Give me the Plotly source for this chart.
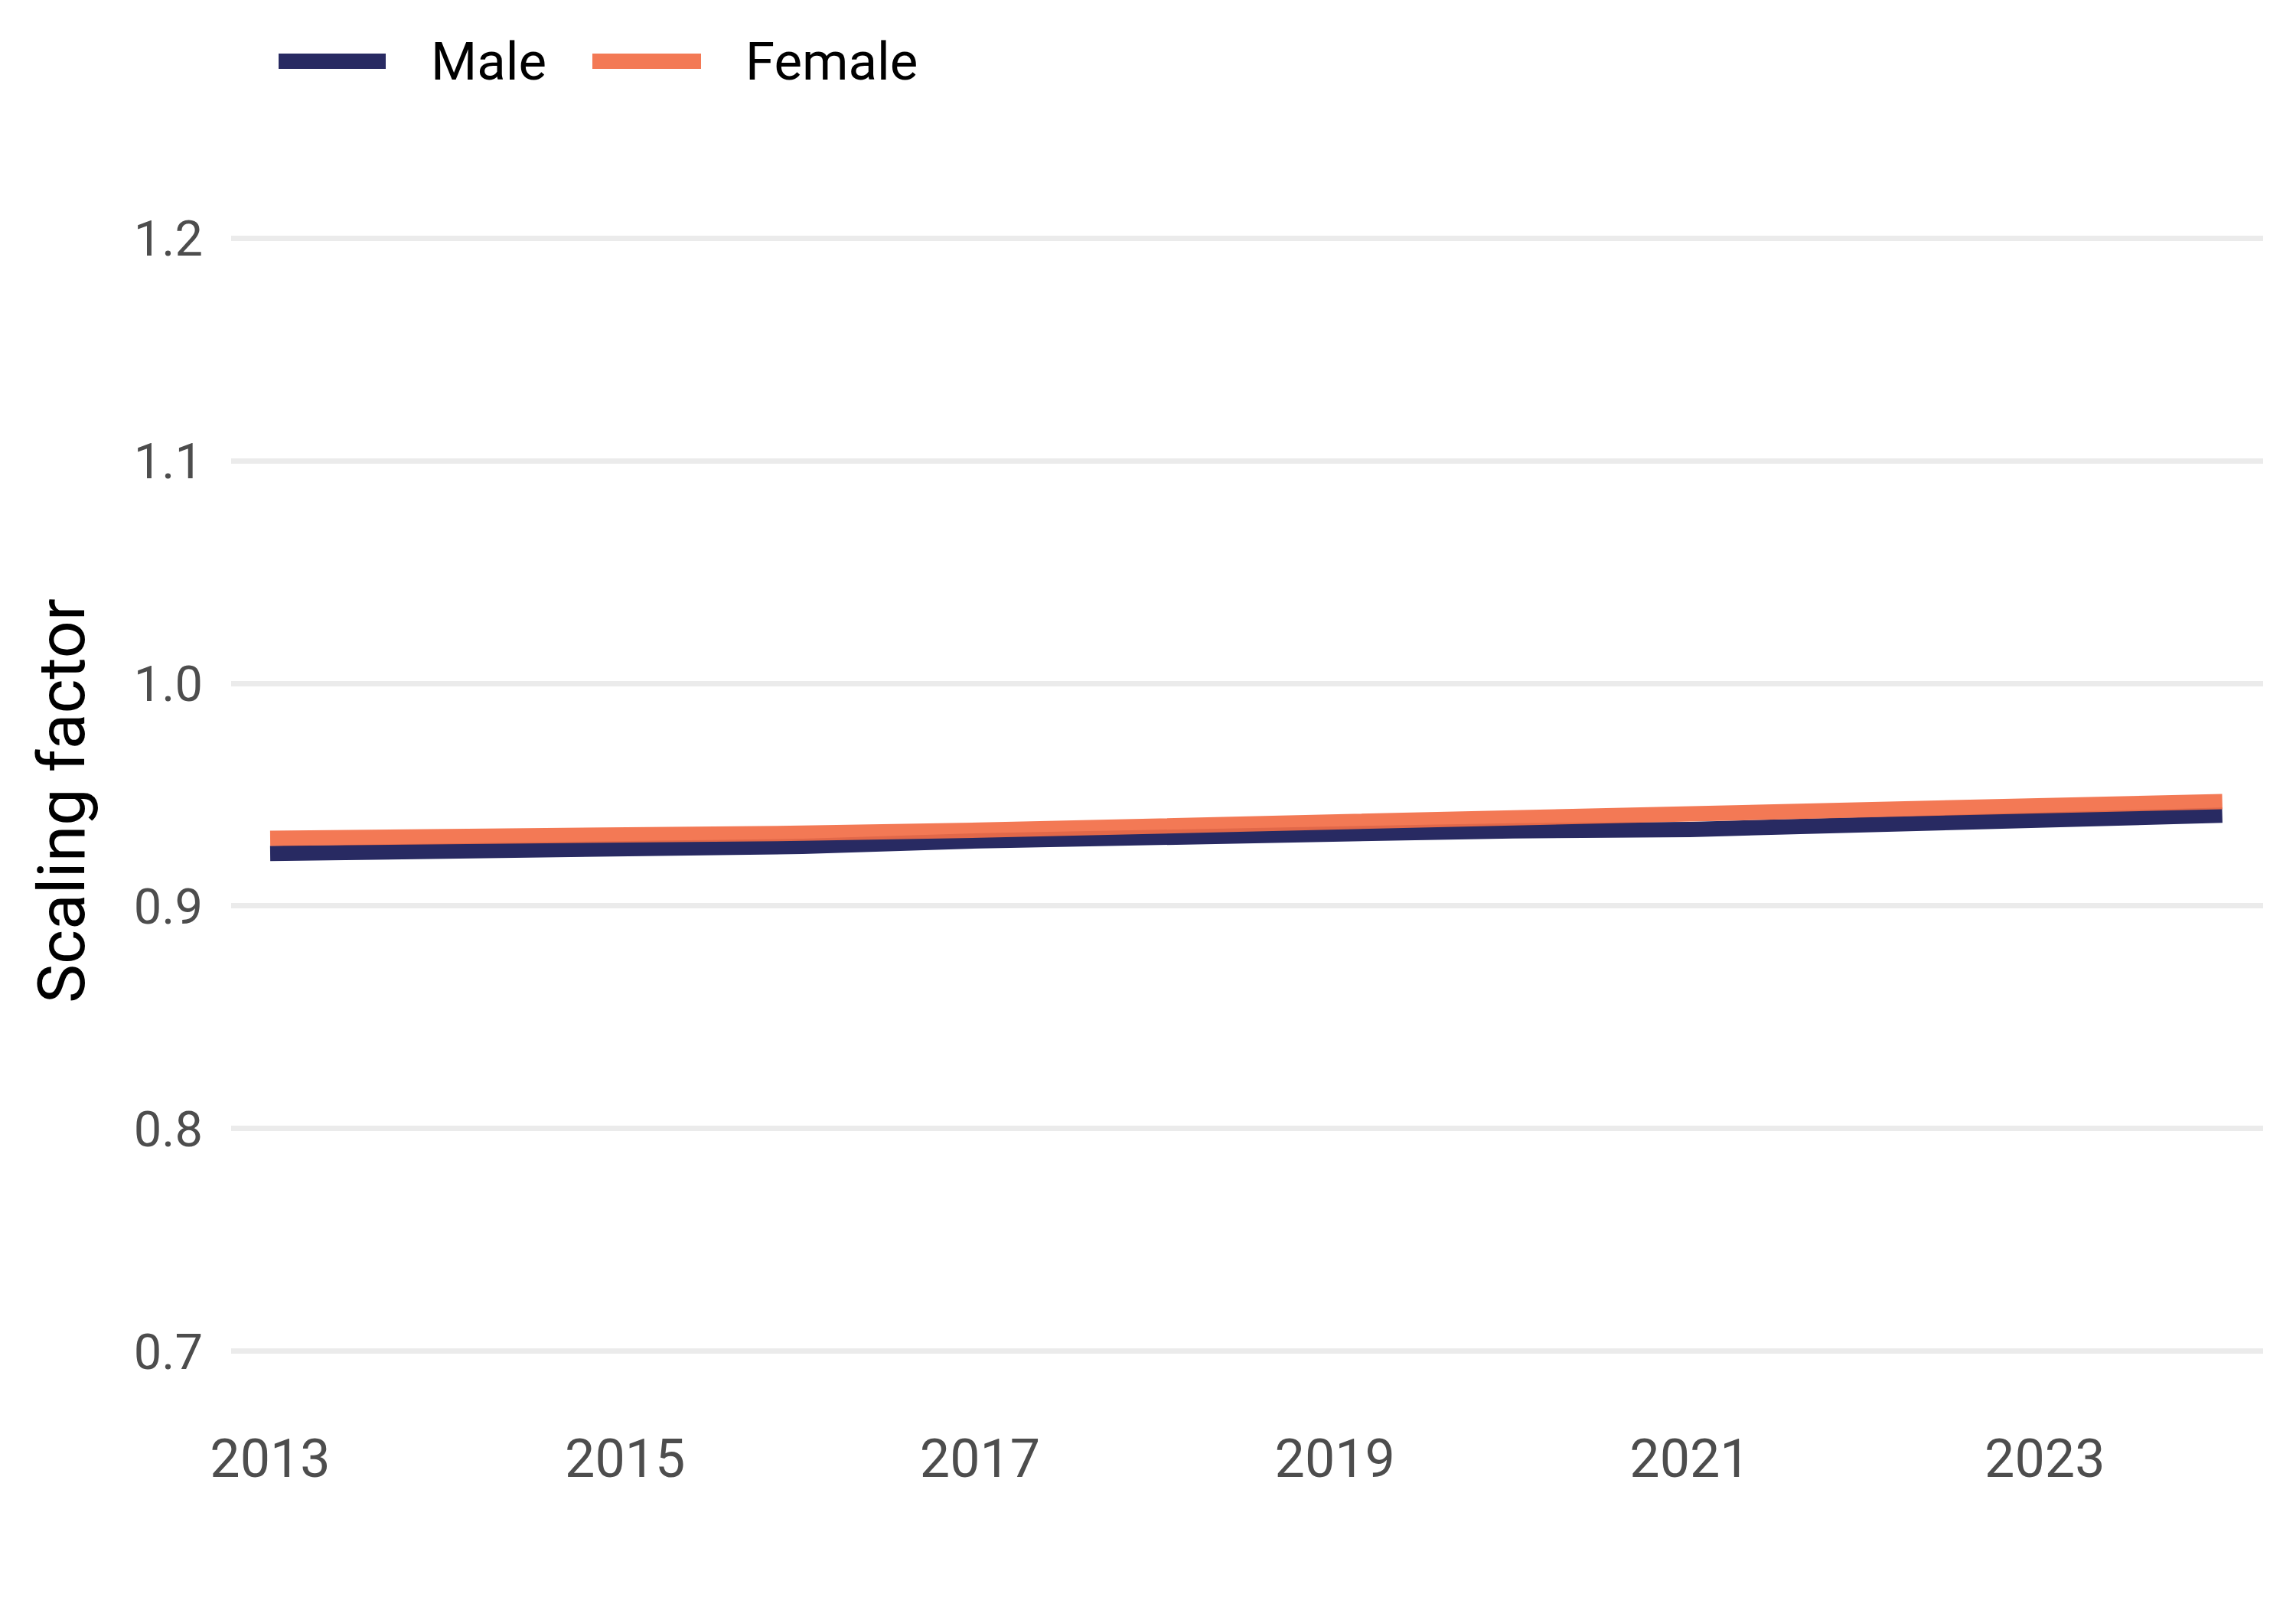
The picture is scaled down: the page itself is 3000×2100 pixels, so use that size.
import plotly.graph_objects as go

years = [2013, 2014, 2015, 2016, 2017, 2018, 2019, 2020, 2021, 2022, 2023, 2024]
male = [0.9236, 0.9243, 0.9252, 0.9268, 0.9293, 0.9312, 0.9332, 0.9338, 0.9344, 0.9367, 0.9389, 0.9408]
female = [0.9304, 0.9308, 0.9315, 0.9327, 0.9341, 0.9360, 0.9380, 0.9395, 0.9411, 0.9428, 0.9445, 0.9469]
series_names = ["Male", "Female"]
series_colors = ["#282A62", "rgba(242,110,70,0.92)"]
x_ticks = [2013, 2015, 2017, 2019, 2021, 2023]
y_ticks = [0.7, 0.8, 0.9, 1.0, 1.1, 1.2]
y_title = "Scaling factor"

FONT = "Roboto, Lato, sans-serif"
W, H = 3000, 2100
L, R, T, B = 294, 51, 274, 313

fig = go.Figure()
for name, vals, col in zip(series_names, [male, female], series_colors):
    fig.add_trace(go.Scatter(x=years, y=vals, mode="lines", name=name,
                             line=dict(color=col, width=20), showlegend=False))

fig.update_layout(
    width=W, height=H,
    margin=dict(l=L, r=R, t=T, b=B),
    paper_bgcolor="white", plot_bgcolor="white",
    font=dict(family=FONT, size=64, color="#4D4D4D"),
    showlegend=False,
)
fig.update_xaxes(range=[2012.78, 2024.23], tickvals=x_ticks, showgrid=False,
                 zeroline=False, showline=False, ticks="",
                 tickfont=dict(size=70, color="#4D4D4D"), ticklabelstandoff=64)
fig.update_yaxes(range=[0.69, 1.21], tickvals=y_ticks, tickformat=".1f",
                 showgrid=True, gridcolor="#EBEBEB", gridwidth=7,
                 zeroline=False, showline=False, ticks="",
                 tickfont=dict(size=65, color="#4D4D4D"), ticklabelstandoff=36)

pw = W - L - R
ph = H - T - B
def px_to_paper_x(px):
    return (px - L) / pw
def px_to_paper_y(py):
    return 1 - (py - T) / ph

# y-axis title
fig.add_annotation(text=y_title, xref="paper", yref="paper",
                   x=px_to_paper_x(72), y=px_to_paper_y(1039), textangle=-90,
                   showarrow=False, xanchor="center", yanchor="middle",
                   font=dict(family=FONT, size=86, color="black"))

# custom legend (wide swatches)
legend_items = [(356, 496, 553), (766, 908, 964)]
for (x0, x1, tx), name, col in zip(legend_items, series_names, series_colors):
    fig.add_shape(type="line", xref="paper", yref="paper",
                  x0=px_to_paper_x(x0), x1=px_to_paper_x(x1),
                  y0=px_to_paper_y(72), y1=px_to_paper_y(72),
                  line=dict(color=col, width=20))
    fig.add_annotation(text=name, xref="paper", yref="paper",
                       x=px_to_paper_x(tx), y=px_to_paper_y(72),
                       xanchor="left", yanchor="middle", showarrow=False,
                       font=dict(family=FONT, size=69, color="black"))

fig.write_html("out.html")
